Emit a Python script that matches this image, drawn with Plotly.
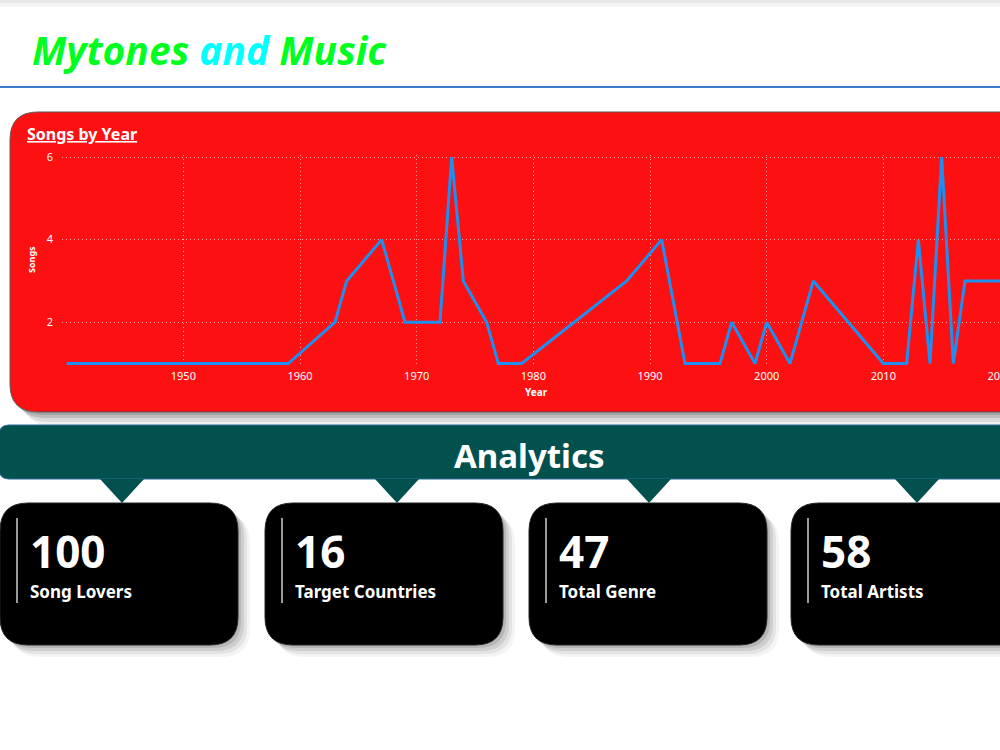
import plotly.graph_objects as go

# ---------------- data ----------------
years = [1940, 1959, 1963, 1964, 1967, 1969, 1972, 1973, 1974, 1976, 1977, 1979,
         1988, 1991, 1993, 1996, 1997, 1999, 2000, 2002, 2004, 2010, 2012, 2013,
         2014, 2015, 2016, 2017, 2020]
songs = [1, 1, 2, 3, 4, 2, 2, 6, 3, 2, 1, 1,
         3, 4, 1, 1, 2, 1, 2, 1, 3, 1, 1, 4,
         1, 6, 1, 3, 3]
x_ticks = [1950, 1960, 1970, 1980, 1990, 2000, 2010, 2020]
y_ticks = [2, 4, 6]
kpi_values = ["100", "16", "47", "58"]
kpi_labels = ["Song Lovers", "Target Countries", "Total Genre", "Total Artists"]

# ---------------- geometry helpers (pixel -> paper) ----------------
W, H = 1000, 750


def px(x):
    return x / W


def py(y):
    return 1 - y / H


def rrect(x0, y0, x1, y1, r):
    pts = [
        ("M", [(x0 + r, y0)]), ("L", [(x1 - r, y0)]), ("Q", [(x1, y0), (x1, y0 + r)]),
        ("L", [(x1, y1 - r)]), ("Q", [(x1, y1), (x1 - r, y1)]),
        ("L", [(x0 + r, y1)]), ("Q", [(x0, y1), (x0, y1 - r)]),
        ("L", [(x0, y0 + r)]), ("Q", [(x0, y0), (x0 + r, y0)]),
    ]
    s = ""
    for cmd, coords in pts:
        s += cmd + " " + " ".join(f"{px(a):.5f},{py(b):.5f}" for a, b in coords) + " "
    return s + "Z"


def poly(points):
    s = "M " + " L ".join(f"{px(a):.5f},{py(b):.5f}" for a, b in points)
    return s + " Z"


shapes = []
annotations = []

# top faint shadow band
shapes.append(dict(type="rect", xref="paper", yref="paper", x0=0, x1=1, y0=py(3), y1=py(0),
                   fillcolor="#E6E6E6", line=dict(width=0), layer="below"))
shapes.append(dict(type="rect", xref="paper", yref="paper", x0=0, x1=1, y0=py(7), y1=py(3),
                   fillcolor="#F4F4F4", line=dict(width=0), layer="below"))

# blue separator line
shapes.append(dict(type="line", xref="paper", yref="paper", x0=0, x1=1, y0=py(87), y1=py(87),
                   line=dict(color="#3B7BC9", width=2), layer="below"))

# red card shadow layers
for off, op in [(14, 0.10), (10, 0.18), (6, 0.30), (3, 0.35)]:
    shapes.append(dict(type="path", xref="paper", yref="paper",
                       path=rrect(10 + off, 112 + off, 1100, 412 + off, 28),
                       fillcolor=f"rgba(120,120,120,{op})", line=dict(width=0), layer="below"))
# red card
shapes.append(dict(type="path", xref="paper", yref="paper", path=rrect(10, 112, 1100, 412, 28),
                   fillcolor="#FD1012", line=dict(color="#5A5A5A", width=1), layer="below"))

# analytics banner
shapes.append(dict(type="path", xref="paper", yref="paper", path=rrect(-1, 425, 1100, 479, 10),
                   fillcolor="#02514F", line=dict(color="#2A6A95", width=1), layer="below"))

# KPI cards
card_x = [0, 265, 529, 791]
card_w = 238
tri_x = [122, 397, 649, 917]
for i, cx in enumerate(card_x):
    x1 = cx + card_w if i < 3 else 1100
    for off, op in [(12, 0.08), (9, 0.12), (6, 0.18), (3, 0.25)]:
        shapes.append(dict(type="path", xref="paper", yref="paper",
                           path=rrect(cx + off, 503 + off, x1 + off, 645 + off, 28),
                           fillcolor=f"rgba(110,110,110,{op})", line=dict(width=0), layer="below"))
for i, cx in enumerate(card_x):
    x1 = cx + card_w if i < 3 else 1100
    shapes.append(dict(type="path", xref="paper", yref="paper", path=rrect(cx, 503, x1, 645, 28),
                       fillcolor="#000000", line=dict(color="#222222", width=1), layer="below"))
    shapes.append(dict(type="line", xref="paper", yref="paper", x0=px(cx + 17), x1=px(cx + 17),
                       y0=py(518), y1=py(603), line=dict(color="#9A9A9A", width=2), layer="below"))
    annotations.append(dict(xref="paper", yref="paper", x=px(cx + 28), y=py(551),
                            xanchor="left", yanchor="middle", showarrow=False,
                            text=f"<b>{kpi_values[i]}</b>",
                            font=dict(family="Noto Sans", size=44, color="white")))
    annotations.append(dict(xref="paper", yref="paper", x=px(cx + 28), y=py(591),
                            xanchor="left", yanchor="middle", showarrow=False,
                            text=f"<b>{kpi_labels[i]}</b>",
                            font=dict(family="Noto Sans", size=17, color="white")))

# triangles under banner
for tx in tri_x:
    shapes.append(dict(type="path", xref="paper", yref="paper",
                       path=poly([(tx - 22, 479), (tx + 22, 479), (tx, 503)]),
                       fillcolor="#02514F", line=dict(width=0), layer="below"))

# title
annotations.append(dict(xref="paper", yref="paper", x=px(30), y=py(50), xanchor="left", yanchor="middle",
                        showarrow=False,
                        text="<span style='color:#00FF21'>Mytones</span> <span style='color:#00FFFF'>and</span> <span style='color:#00FF21'>Music</span>",
                        font=dict(family="Noto Sans", size=39, weight=700, style="italic")))
# chart title
annotations.append(dict(xref="paper", yref="paper", x=px(25), y=py(134), xanchor="left", yanchor="middle",
                        showarrow=False, text="<b>Songs by Year</b>",
                        font=dict(family="Noto Sans", size=16, color="white", lineposition="under")))
# axis titles
annotations.append(dict(xref="paper", yref="paper", x=px(31), y=py(260), xanchor="center", yanchor="middle",
                        showarrow=False, text="<b>Songs</b>", textangle=-90,
                        font=dict(family="Noto Sans", size=9, color="white")))
annotations.append(dict(xref="paper", yref="paper", x=px(536), y=py(392), xanchor="center", yanchor="middle",
                        showarrow=False, text="<b>Year</b>",
                        font=dict(family="Noto Sans", size=10, color="white")))
# banner title
annotations.append(dict(xref="paper", yref="paper", x=px(529), y=py(455), xanchor="center", yanchor="middle",
                        showarrow=False, text="<b>Analytics</b>",
                        font=dict(family="Noto Sans", size=33, color="white")))

fig = go.Figure()
fig.add_trace(go.Scatter(x=years, y=songs, mode="lines", cliponaxis=False,
                         line=dict(color="#1E8FF0", width=3), hoverinfo="x+y"))

grid = dict(showgrid=True, gridcolor="rgba(255,225,225,0.7)", griddash="1px,3px", gridwidth=1,
            zeroline=False, showline=False, ticks="", automargin=False)
fig.update_xaxes(domain=[px(62), 1.0], range=[1939.6, 2020.0], tickvals=x_ticks,
                 tickfont=dict(family="Noto Sans", size=11, color="white"),
                 ticklabeloverflow="allow", ticklabelstandoff=2, **grid)
fig.update_yaxes(domain=[py(366.4), py(155)], range=[0.93, 6.05], tickvals=y_ticks,
                 tickfont=dict(family="Noto Sans", size=11, color="white"),
                 ticklabelstandoff=8, **grid)

fig.update_layout(width=W, height=H, margin=dict(l=0, r=0, t=0, b=0, autoexpand=False),
                  paper_bgcolor="white", plot_bgcolor="rgba(0,0,0,0)",
                  showlegend=False, shapes=shapes, annotations=annotations)

fig.write_html("out.html")
